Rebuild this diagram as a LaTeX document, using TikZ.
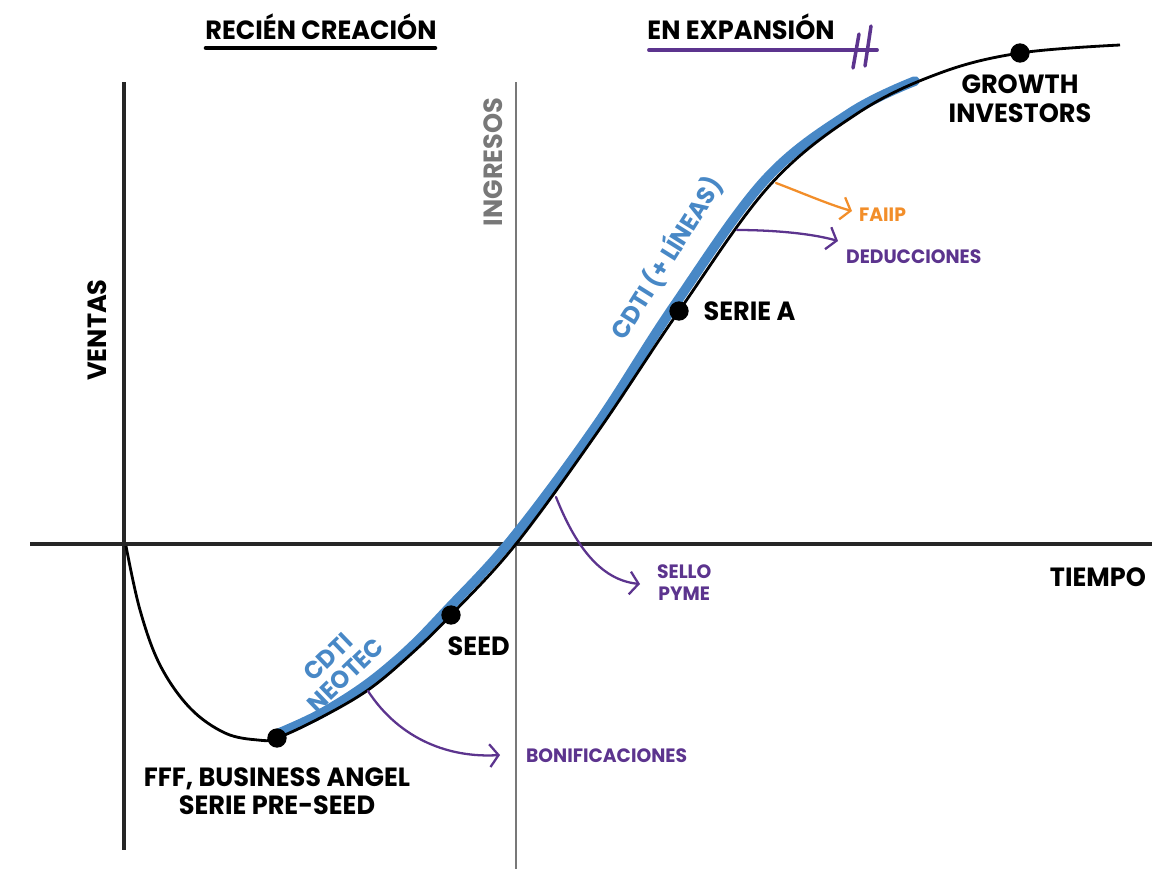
\documentclass[tikz,border=0pt]{standalone}
\usepackage{fontspec}
\setmainfont{Poppins}[FakeStretch=0.97]
\usetikzlibrary{positioning, arrows.meta}

\definecolor{cblue}{RGB}{72,136,198}
\definecolor{cpurple}{RGB}{92,52,142}
\definecolor{corange}{RGB}{242,142,42}
\definecolor{cgray}{RGB}{120,120,120}

\tikzset{
	axis/.style={line width=2.2pt, black!85},
	dot/.style={circle, fill=black, inner sep=0pt, minimum size=11pt},
	lbl/.style={font=\fontsize{15}{16}\selectfont\bfseries, align=center, inner sep=1pt},
	small/.style={font=\fontsize{11}{12.5}\selectfont\bfseries, align=center, inner sep=1pt},
	bluelbl/.style={font=\fontsize{14}{14.5}\selectfont\bfseries, text=cblue, align=center, inner sep=1pt},
	hook/.style={line width=1.3pt, line cap=round, -{Straight Barb[length=5pt, width=13pt, line width=1.3pt]}},
}

\begin{document}
\begin{tikzpicture}[x=0.02cm, y=-0.02cm]
		\useasboundingbox (0,0) rectangle (1152,869);

		% axes
		\coordinate (yt) at (124,82);
		\coordinate (yb) at (124,850);
		\coordinate (xl) at (30,544);
		\coordinate (xr) at (1152,544);
		\coordinate (it) at (516,82);
		\coordinate (ib) at (516,869);
		\draw[axis] (yt) -- (yb);
		\draw[axis] (xl) -- (xr);
		\draw[line width=1.6pt, cgray] (it) -- (ib);

		\node[lbl, rotate=90] (ventas) at (97,330) {VENTAS};
		\node[lbl, rotate=90, text=cgray] (ingresos) at (493,162) {INGRESOS};
		\node[lbl, anchor=east] (tiempo) at (1148,577) {TIEMPO};

		% phases
		\node[lbl] (recien) at (321,27) {RECIÉN CREACIÓN};
		\coordinate (rl) at (206,48);
		\coordinate (rr) at (435,48);
		\draw[line width=2.6pt, line cap=round] (rl) -- (rr);

		\node[lbl] (expansion) at (741,27) {EN EXPANSIÓN};
		\coordinate (el) at (649,50);
		\coordinate (er) at (877,50);
		\draw[line width=2.2pt, cpurple, line cap=round] (el) -- (er);
		\draw[line width=2pt, cpurple, line cap=round] (859,34) -- (853,68);
		\draw[line width=2pt, cpurple, line cap=round] (871,26) -- (865,66);

		% curve
		\draw[line width=5.5pt, cblue, line cap=round] plot[smooth, tension=0.6] coordinates {
			(279,733) (320,714) (366,685) (408,650) (447,610) (512,539) (596,426) (674,306) (765,180) (850,113) (915,81)};
		\draw[line width=1.6pt] plot[smooth, tension=0.6] coordinates {
			(126,546) (140,610) (160,665) (190,708) (225,733) (258,740) (277,738) (320,718) (368,690)
			(410,655) (451,615) (516,544) (599,430) (679,311) (770,185) (858,113) (940,73) (1020,53) (1120,45)};

		% stages
		\node[dot] (preseed) at (277,738) {};
		\node[dot] (seed) at (451,615) {};
		\node[dot] (seriea) at (679,311) {};
		\node[dot] (growth) at (1020,53) {};

		\node[lbl, below=0.35cm of preseed] (fff) {FFF, BUSINESS ANGEL\\SERIE PRE-SEED};
		\node[lbl, below right=0.25cm and -0.25cm of seed] (seedl) {SEED};
		\node[lbl, right=0.25cm of seriea] (serieal) {SERIE A};
		\node[lbl, below=0.2cm of growth] (growthl) {GROWTH\\INVESTORS};

		\node[bluelbl, rotate=44] (neotec) at (337,666) {CDTI\\NEOTEC};
		\node[bluelbl, rotate=58] (lineas) at (666,258) {CDTI (+ LÍNEAS)};

		% aids
		\coordinate (b0) at (368,691);
		\coordinate (b1) at (500,755);
		\draw[hook, cpurple] (b0) .. controls (400,740) and (450,758) .. (b1);
		\node[small, text=cpurple, anchor=west] (bonif) at (524,756) {BONIFICACIONES};

		\coordinate (s0) at (556,497);
		\coordinate (s1) at (640,584);
		\draw[hook, cpurple] (s0) .. controls (575,545) and (600,580) .. (s1);
		\node[small, text=cpurple, anchor=west] (sello) at (655,583) {SELLO\\PYME};

		\coordinate (f0) at (776,183);
		\coordinate (f1) at (852,211);
		\draw[hook, corange] (f0) .. controls (800,192) and (830,205) .. (f1);
		\node[small, text=corange, anchor=west] (faiip) at (857,215) {FAIIP};

		\coordinate (d0) at (737,230);
		\coordinate (d1) at (838,241);
		\draw[hook, cpurple] (d0) .. controls (770,230) and (810,233) .. (d1);
		\node[small, text=cpurple, anchor=west] (deduc) at (844,257) {DEDUCCIONES};

	\end{tikzpicture}
\end{document}
